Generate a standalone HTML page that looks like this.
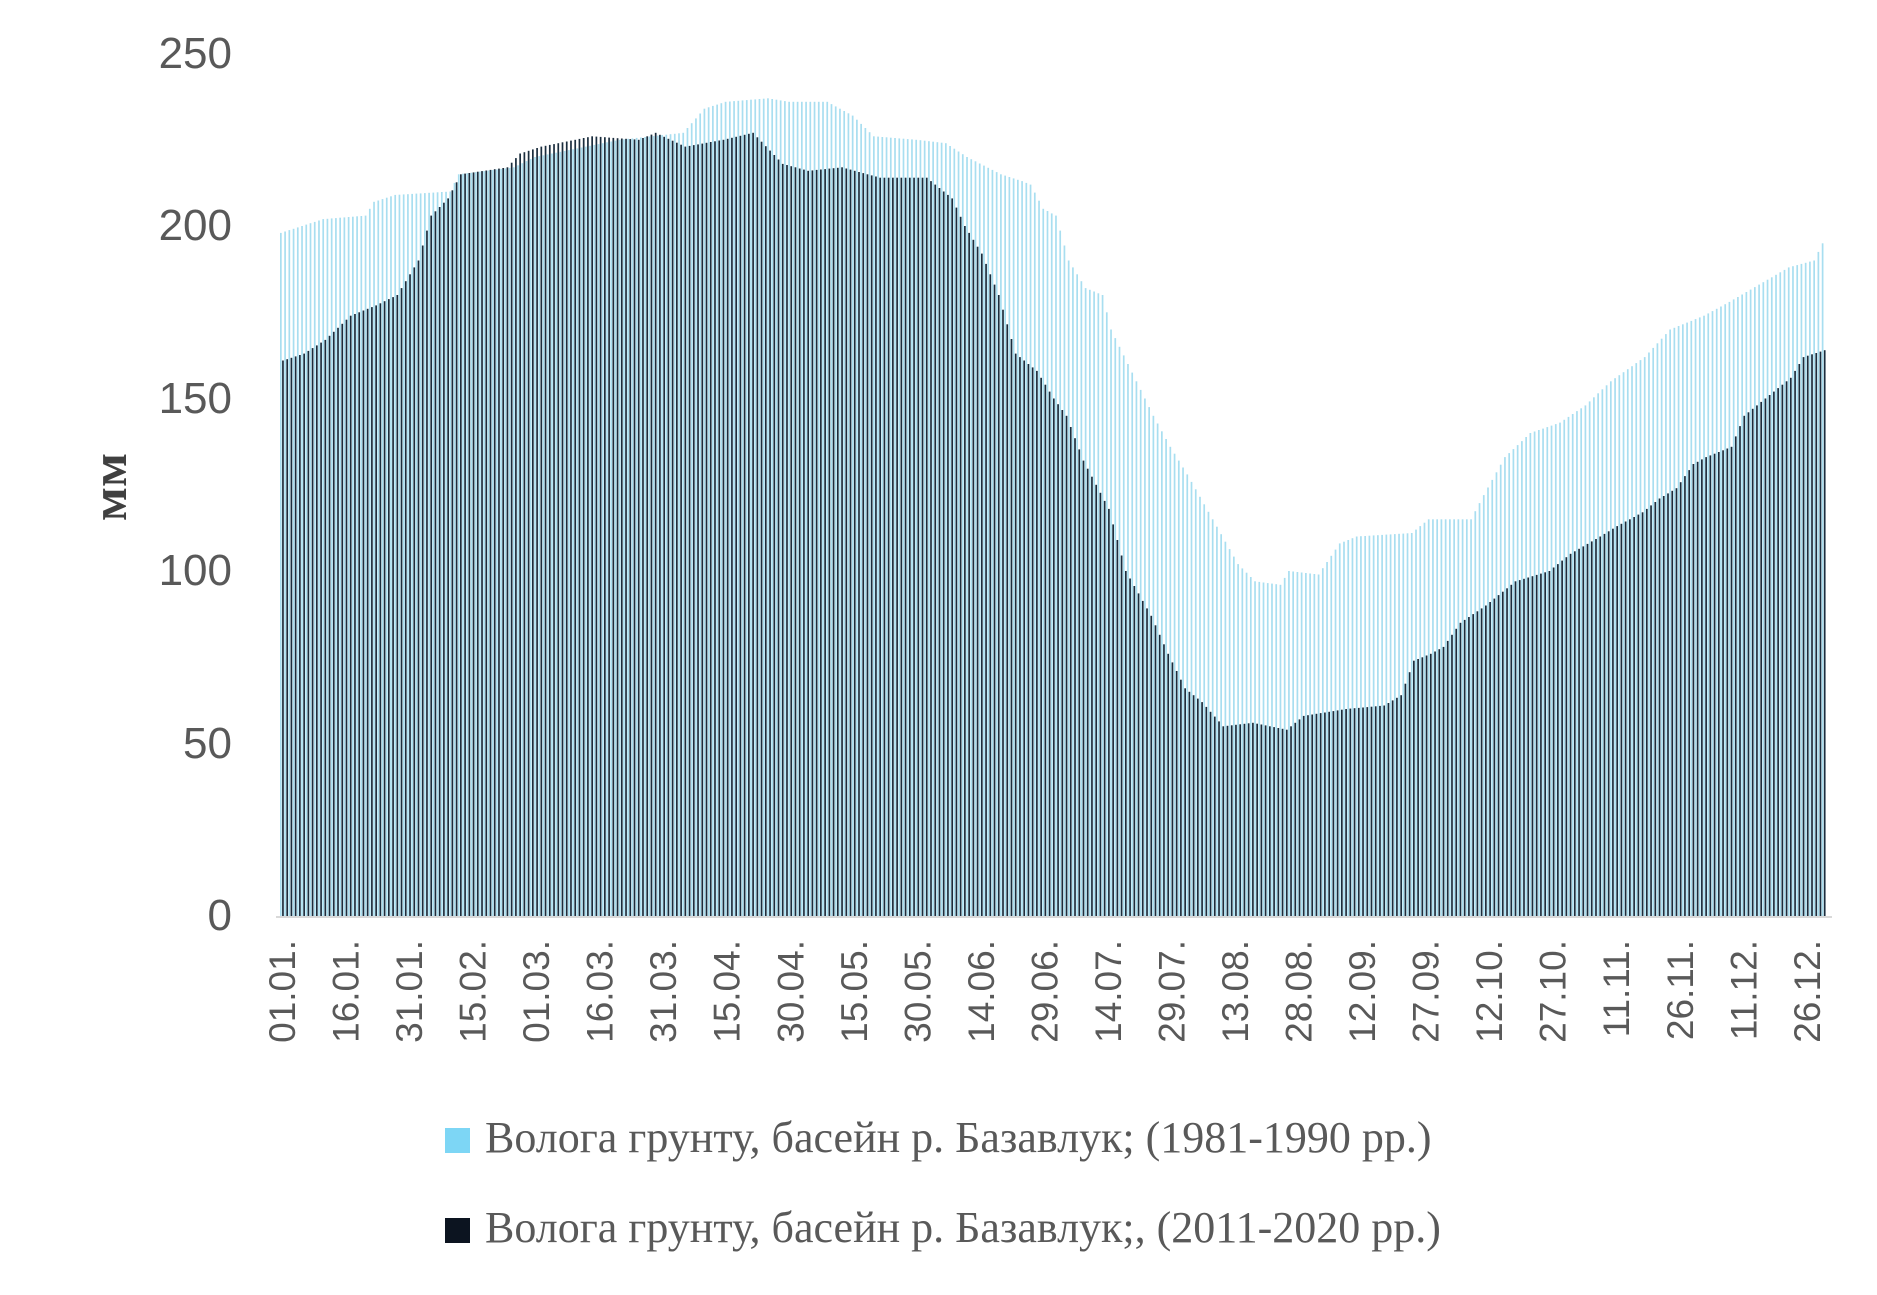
<!DOCTYPE html>
<html><head><meta charset="utf-8"><style>
html,body{margin:0;padding:0;background:#fff;}
svg{display:block;}
</style></head><body>
<svg id="s" width="1877" height="1295" xmlns="http://www.w3.org/2000/svg">
<g id="bars"></g>
<line x1="276" y1="917" x2="1832" y2="917" stroke="#d9d9d9" stroke-width="2"/>
<g font-family="Liberation Sans, sans-serif" font-size="44" fill="#595959" text-anchor="end">
<text x="232" y="68">250</text>
<text x="232" y="240">200</text>
<text x="232" y="413">150</text>
<text x="232" y="585">100</text>
<text x="232" y="758">50</text>
<text x="232" y="930">0</text>
</g>
<text transform="translate(126,487) rotate(-90)" text-anchor="middle" font-family="Liberation Serif, serif" font-weight="bold" font-size="50" fill="#404040">мм</text>
<g id="xl" font-family="Liberation Sans, sans-serif" font-size="37" fill="#595959"></g>
<rect x="445" y="1128" width="25" height="25" fill="#7dd6f5"/>
<text x="485" y="1152" font-family="Liberation Serif, serif" font-size="44" fill="#595959">Вологa грунту, басейн р. Базавлук; (1981-1990 рр.)</text>
<rect x="445" y="1218" width="25" height="25" fill="#0c1420"/>
<text x="485" y="1242" font-family="Liberation Serif, serif" font-size="44" fill="#595959">Вологa грунту, басейн р. Базавлук;, (2011-2020 рр.)</text>
</svg>
<script>
var L=[[0,198],[5,200],[10,202],[20,203],[22,207],[27,209],[40,210],[42,215],[55,217],[60,220],[80,225],[95,227],[100,234],[105,236],[115,237],[120,236],[129,236],[135,232],[140,226],[150,225],[157,224],[162,220],[170,215],[175,213],[177,212],[180,205],[183,203],[186,190],[190,182],[194,180],[196,170],[200,160],[206,145],[210,136],[214,128],[220,115],[226,102],[230,97],[236,96],[238,100],[245,99],[250,108],[254,110],[267,111],[271,115],[281,115],[284,122],[289,133],[295,140],[302,143],[308,148],[314,155],[322,162],[328,170],[336,174],[342,178],[349,183],[356,188],[362,190],[364,195]];
var D=[[0,161],[5,163],[10,167],[16,174],[22,177],[27,180],[32,190],[35,203],[39,208],[42,215],[53,217],[56,221],[61,223],[73,226],[84,225],[88,227],[95,223],[104,225],[111,227],[118,218],[124,216],[132,217],[141,214],[152,214],[158,208],[161,200],[165,192],[169,180],[173,163],[178,158],[182,150],[185,145],[189,132],[195,118],[199,100],[205,87],[209,76],[213,66],[217,62],[222,55],[229,56],[237,54],[241,58],[251,60],[260,61],[264,64],[267,74],[271,76],[274,78],[278,85],[284,90],[287,93],[291,97],[299,100],[304,105],[311,110],[315,113],[321,117],[325,121],[329,124],[333,131],[336,133],[342,136],[345,145],[350,150],[356,156],[359,162],[364,164]];
function f(P,d){for(var i=0;i<P.length-1;i++){if(d>=P[i][0]&&d<=P[i+1][0]){var t=(d-P[i][0])/(P[i+1][0]-P[i][0]);return P[i][1]+t*(P[i+1][1]-P[i][1]);}}return P[P.length-1][1];}
var x0=280,p=(1826-280)/365,y0=916,k=3.45,h='';
for(var d=0;d<365;d++){var x=x0+d*p;var a=f(L,d),b=f(D,d);
h+='<rect x="'+x.toFixed(2)+'" y="'+(y0-a*k).toFixed(1)+'" width="1.7" height="'+(a*k).toFixed(1)+'" fill="#a8def0"/>';
h+='<rect x="'+(x+2.1).toFixed(2)+'" y="'+(y0-b*k).toFixed(1)+'" width="1.7" height="'+(b*k).toFixed(1)+'" fill="#1b2d3d"/>';}
document.getElementById('bars').innerHTML=h;
var labs=['01.01.','16.01.','31.01.','15.02.','01.03.','16.03.','31.03.','15.04.','30.04.','15.05.','30.05.','14.06.','29.06.','14.07.','29.07.','13.08.','28.08.','12.09.','27.09.','12.10.','27.10.','11.11.','26.11.','11.12.','26.12.'];
var t='';for(var i=0;i<labs.length;i++){var cx=x0+i*15*p+2+13;
t+='<text transform="translate('+cx.toFixed(1)+',940) rotate(-90)" text-anchor="end">'+labs[i]+'</text>';}
document.getElementById('xl').innerHTML=t;
</script>
</body></html>
